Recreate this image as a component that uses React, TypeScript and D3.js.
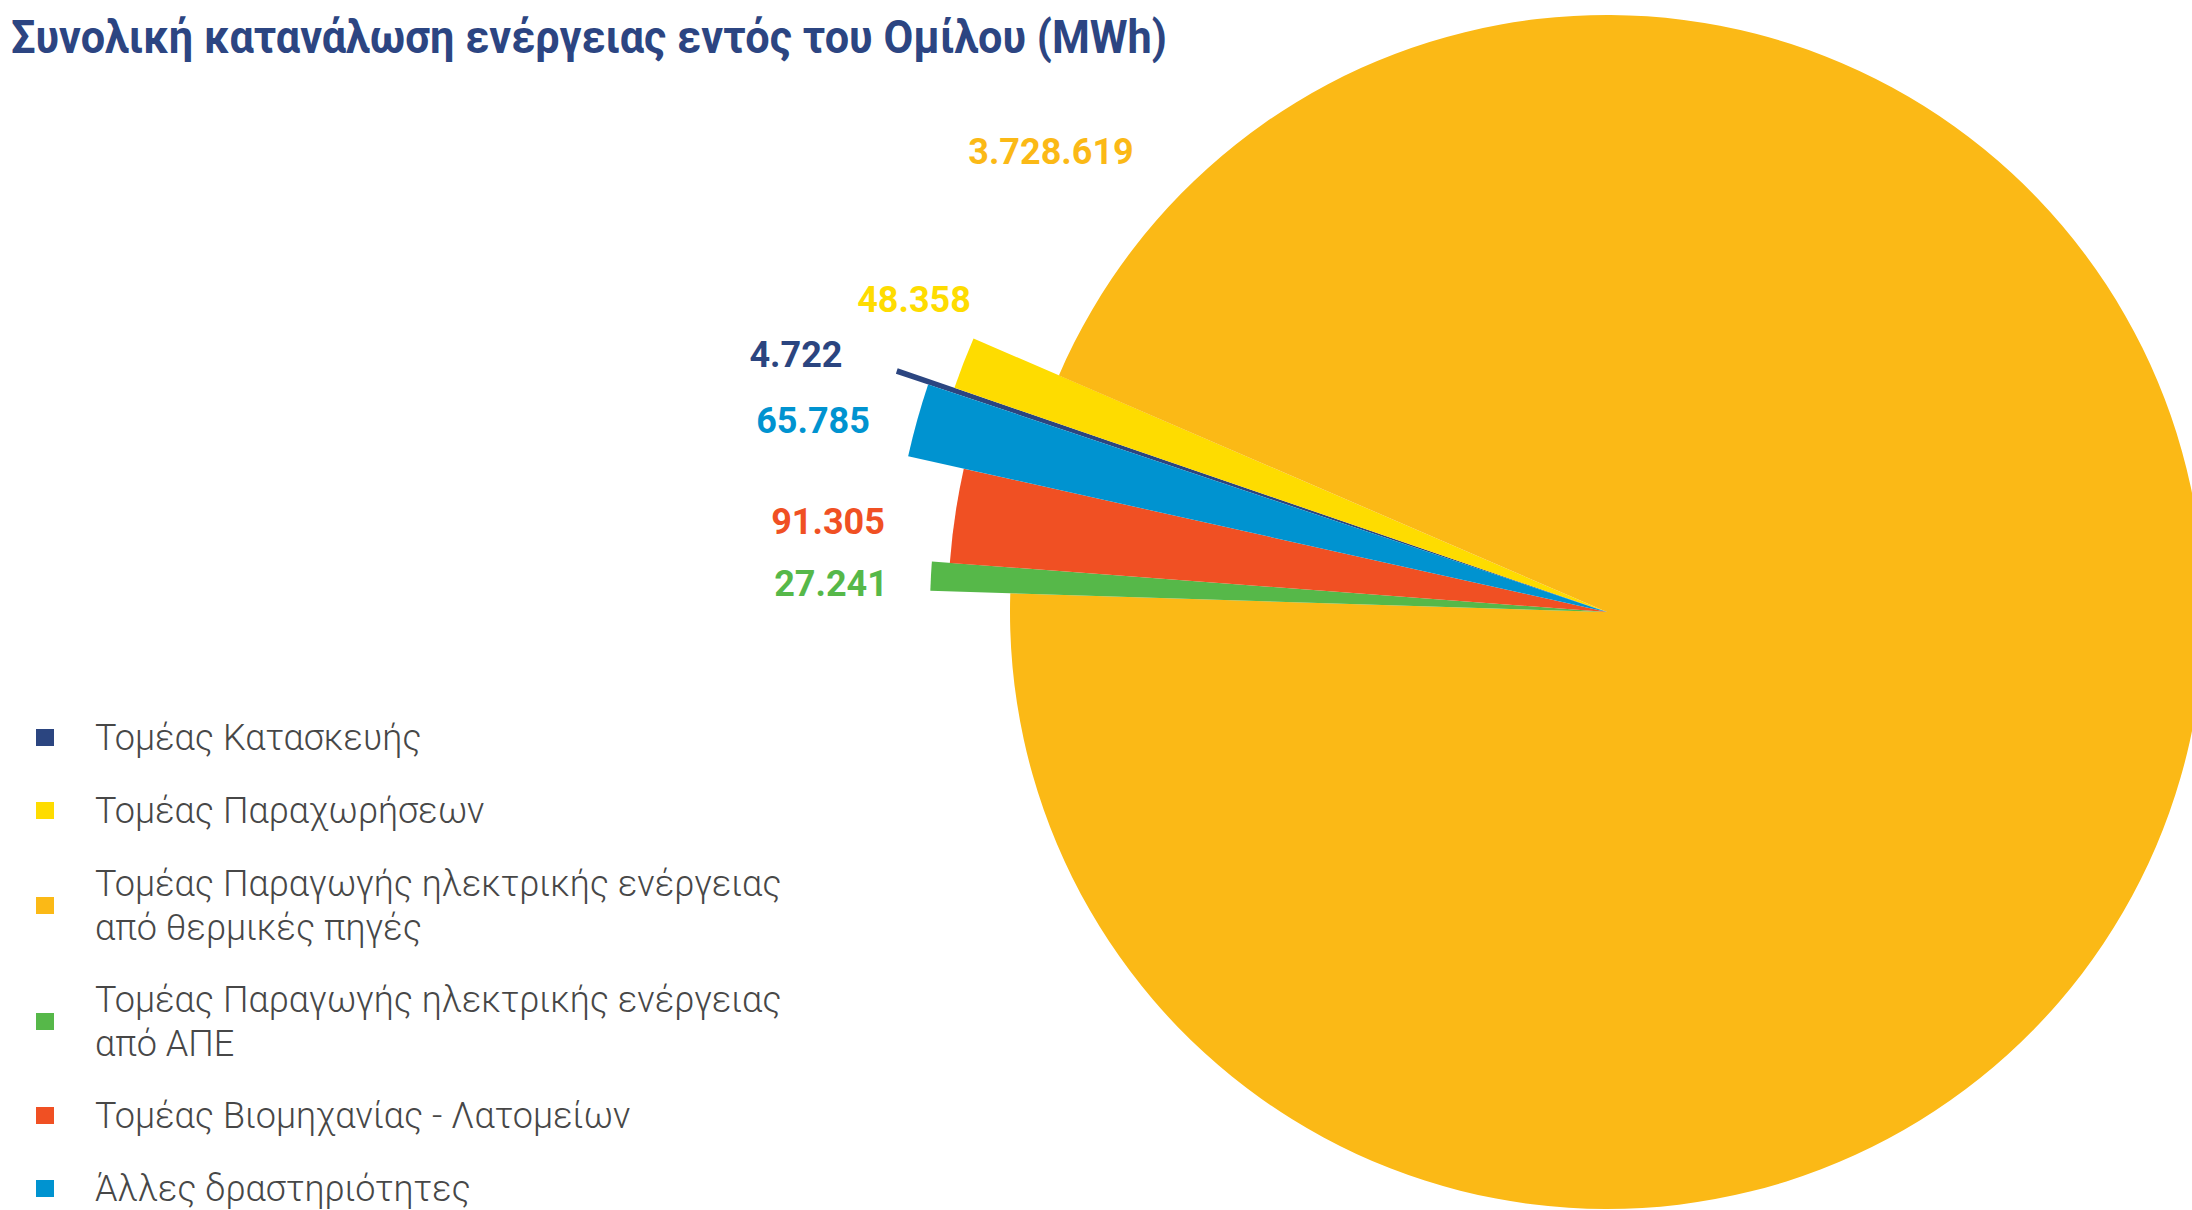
import React from "react";
import * as d3 from "d3";

// Energy consumption by business segment (MWh)
const categories = [
  "Τομέας Κατασκευής",
  "Τομέας Παραχωρήσεων",
  "Τομέας Παραγωγής ηλεκτρικής ενέργειας από θερμικές πηγές",
  "Τομέας Παραγωγής ηλεκτρικής ενέργειας από ΑΠΕ",
  "Τομέας Βιομηχανίας - Λατομείων",
  "Άλλες δραστηριότητες",
];
const values = [4722, 48358, 3728619, 27241, 91305, 65785];

// legend text, wrapped
const legendLines = [
  ["Τομέας Κατασκευής"],
  ["Τομέας Παραχωρήσεων"],
  ["Τομέας Παραγωγής ηλεκτρικής ενέργειας", "από θερμικές πηγές"],
  ["Τομέας Παραγωγής ηλεκτρικής ενέργειας", "από ΑΠΕ"],
  ["Τομέας Βιομηχανίας - Λατομείων"],
  ["Άλλες δραστηριότητες"],
];

const title = "Συνολική κατανάλωση ενέργειας εντός του Ομίλου (MWh)";

// styling
const colors = ["#2B4580", "#FEDC00", "#FBB916", "#56B849", "#F05023", "#0093D0"];
const outerRadii = [750, 690, 597, 677, 659, 716];
const labelAnchors = [
  { x: 796, y: 367 },
  { x: 914, y: 312 },
  { x: 1051, y: 164 },
  { x: 831, y: 596 },
  { x: 828, y: 534 },
  { x: 813, y: 433 },
];
// clockwise drawing order of slices
const sliceOrder = [3, 4, 5, 0, 1, 2];

const W = 2192;
const H = 1210;
const cx = 1607;
const cy = 612;
const startDeg = 271.8;

const greek = d3.formatLocale({ decimal: ",", thousands: ".", grouping: [3], currency: ["", "€"] });
const fmt = greek.format(",d");

export default function App() {
  const items = categories.map((c, i) => ({ i, name: c, value: values[i] }));
  const rank = (i: number) => sliceOrder.indexOf(i);
  const start = (startDeg * Math.PI) / 180;
  const pie = d3
    .pie<any>()
    .value((d) => d.value)
    .sort((a, b) => rank(a.i) - rank(b.i))
    .startAngle(start)
    .endAngle(start + 2 * Math.PI);
  const arcs = pie(items);

  const arcGen = d3.arc<any>().innerRadius(0);

  let baseline = 750;
  const legendRows = legendLines.map((lines, i) => {
    const row = { i, lines, y: baseline };
    baseline += 30 + 43 * lines.length;
    return row;
  });

  return (
    <svg
      width={W}
      height={H}
      style={{ position: "absolute", left: 0, top: 0, background: "#fff" }}
    >
      <text
        x={11}
        y={53}
        fontFamily="Roboto, 'Noto Sans', sans-serif"
        fontWeight={700}
        fontSize={46}
        fill="#2C4582"
        textLength={1156}
        lengthAdjust="spacingAndGlyphs"
      >
        {title}
      </text>

      <g transform={`translate(${cx},${cy})`}>
        {arcs.map((a) => (
          <path
            key={a.data.i}
            d={arcGen.outerRadius(outerRadii[a.data.i])(a) as string}
            fill={colors[a.data.i]}
          />
        ))}
      </g>

      {values.map((v, i) => (
        <text
          key={i}
          x={labelAnchors[i].x}
          y={labelAnchors[i].y}
          textAnchor="middle"
          fontFamily="Roboto, 'Noto Sans', sans-serif"
          fontWeight={700}
          fontSize={36}
          fill={colors[i]}
        >
          {fmt(v)}
        </text>
      ))}

      {legendRows.map((r) => (
        <g key={r.i}>
          <rect
            x={36}
            y={r.y - 12 + 22 * (r.lines.length - 1) - 9}
            width={18}
            height={17}
            fill={colors[r.i]}
          />
          <text
            x={95}
            y={r.y}
            fontFamily="Roboto, 'Noto Sans', sans-serif"
            fontWeight={300}
            fontSize={36}
            fill="#474747"
          >
            {r.lines.map((l, k) => (
              <tspan key={k} x={95} dy={k === 0 ? 0 : 44}>
                {l}
              </tspan>
            ))}
          </text>
        </g>
      ))}
    </svg>
  );
}
